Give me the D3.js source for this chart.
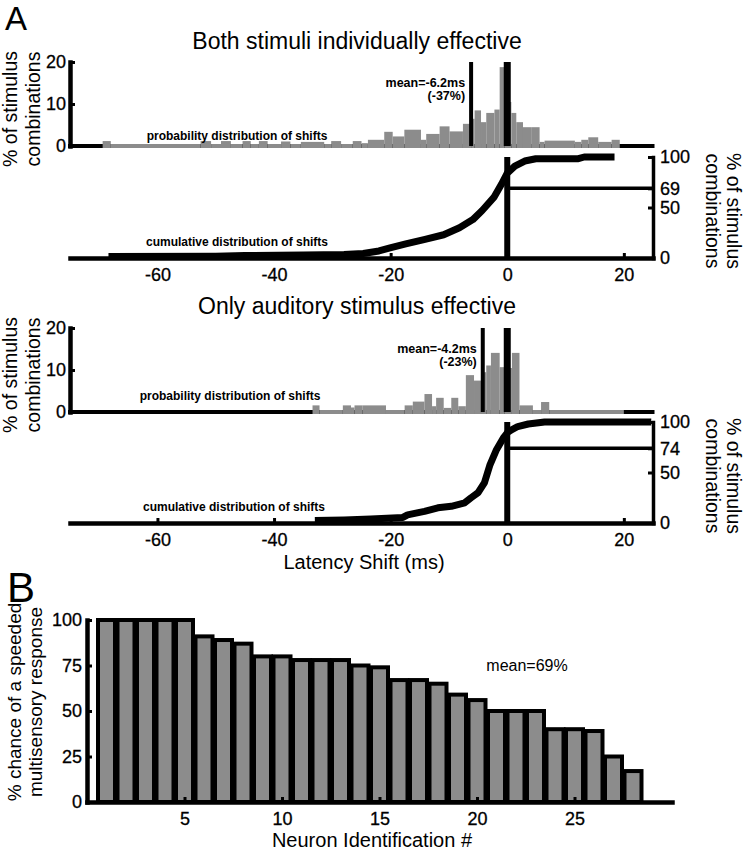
<!DOCTYPE html>
<html><head><meta charset="utf-8">
<script src="https://cdn.jsdelivr.net/npm/d3@7"></script>
<style>
body{margin:0;background:#fff}
svg{display:block}
</style>
</head><body>
<svg id="c" width="746" height="853"></svg>
<script>
// ---------------- DATA ----------------
const shiftDomain = [-75, 25];
const shiftTicks = [-60, -40, -20, 0, 20];
const histTicks = [0, 10, 20];
const cumTicks = [0, 50, 100];

// Panel A1: both stimuli individually effective
const topTitle = "Both stimuli individually effective";
const topHistEdges = [-69.4,-68,-52.6,-50.8,-49.1,-47.4,-45.4,-44,-42.6,-41.1,-38.8,-37.2,-35.4,-31.4,-30.2,-28.5,-26.5,-25,-23.9,-21.1,-19.65,-17.65,-14.8,-13.9,-11.6,-9.9,-7.6,-6.2,-5.6,-4.5,-3.6,-2.2,-1.3,-0.45,0.7,1.55,2.7,4.1,5.55,6.4,11.6,12.7,13.9,15.6,17.9,19.3];
const topHistPct = [0.7,0,0.7,0,0.7,0,0.7,0,0.7,0,0.6,0,0.5,0,0.7,0,0.7,0.2,1.0,2.9,1.8,3.4,1.0,2.4,4.2,3.0,4.8,6.0,8.0,5.2,7.4,8.2,18.3,10,7.4,5.2,4.0,4.0,0.5,0.8,0.5,1.0,1.6,0.5,1.0];
const topMean = -6.2;
const topMeanLabel = ["mean=-6.2ms", "(-37%)"];
const topCumShift = [-68.4,-50,-45,-35,-28,-24.7,-22,-20.1,-17.4,-14.1,-10.9,-8.2,-5.9,-4.3,-2.3,-1.0,0,1.3,3.0,4.9,8,12.2,13.2,18.4];
const topCumPct   = [1.5,1.8,2.5,3,3.5,4.5,7,10,14,18.5,23,30,38,47,60,73,84,91,96,98.3,98.3,98.3,100,100];
const topNegPct = 69;

// Panel A2: only auditory stimulus effective
const botTitle = "Only auditory stimulus effective";
const botHistEdges = [-33.4,-32.2,-28.2,-26.8,-26.2,-24.8,-20.8,-17.6,-16.2,-14.2,-12.9,-12.2,-10.9,-9.6,-8.4,-7.1,-5.7,-4.5,-3.6,-2.8,-1.3,-0.5,0.8,2.1,4.4,5.8,7.2,20];
const botHistPct = [1.1,0,1.1,0.6,1.1,1.1,0,1.1,2.0,3.8,0.9,2.9,0.5,2.9,0.9,8.3,7.0,9.0,10.6,13.6,10.2,10,13.6,1.1,0,1.9,0];
const botMean = -4.2;
const botMeanLabel = ["mean=-4.2ms", "(-23%)"];
const botCumShift = [-33,-28,-23.4,-17.9,-17.1,-14.2,-11.9,-9.6,-7.3,-6.2,-5.0,-3.9,-3.0,-1.9,-0.7,0.1,0.7,1.8,3.6,6.4,24.7];
const botCumPct   = [2.5,3,4,5.5,8,11.5,15,16.5,20,25,30,40,57,72,84,90,92,95.5,98,100,100];
const botNegPct = 74;

// Panel B
const neuronIds = d3.range(1, 29);
const speededPct = [100,100,100,100,100,91,89,87,80,80,78,78,78,75,74,67,67,65,59,56,50,50,50,40,40,39,25,17];
const neuronTicks = [5, 10, 15, 20, 25];
const chanceTicks = [0, 25, 50, 75, 100];
const meanChanceLabel = "mean=69%";

// ---------------- DRAW ----------------
const FONT = '"Liberation Sans", Arial, Helvetica, sans-serif';
const GRAY = "#8c8c8c";
const svg = d3.select("#c").attr("font-family", FONT);

const x = d3.scaleLinear().domain(shiftDomain).range([70, 653]);
const [X0, X1] = x.range();

function styleAxis(g, w, fs) {
  g.attr("font-family", FONT).attr("font-size", fs);
  g.select(".domain").attr("stroke-width", w).attr("stroke-linecap", "square");
  g.selectAll(".tick line").attr("stroke-width", 3);
  g.selectAll(".tick text").attr("fill", "#000").attr("stroke", "#000").attr("stroke-width", 0.3);
}

function drawPanel(cfg) {
  const g = svg.append("g");
  const yH = d3.scaleLinear().domain([0, 20]).range([cfg.hBase, cfg.hBase - 84]);
  const yC = d3.scaleLinear().domain([0, 100]).range([cfg.cBase, cfg.cBase - 101]);

  g.append("text").attr("x", 357).attr("y", cfg.titleY).attr("text-anchor", "middle")
    .attr("font-size", 23).text(cfg.title);

  // histogram baseline
  g.append("line").attr("x1", X0 - 2).attr("x2", X1 + 1.5).attr("y1", yH(0)).attr("y2", yH(0))
    .attr("stroke", "#000").attr("stroke-width", 4);

  const bins = cfg.pct.map((v, i) => ({ x0: cfg.edges[i], x1: cfg.edges[i + 1], v }));
  g.selectAll("rect.bin").data(bins).join("rect").attr("class", "bin")
    .attr("x", d => x(d.x0)).attr("width", d => x(d.x1) - x(d.x0))
    .attr("y", d => yH(d.v) - 2).attr("height", d => yH(0) - yH(d.v) + 4)
    .attr("fill", GRAY);

  const ya = g.append("g").attr("transform", `translate(${X0},0)`)
    .call(d3.axisLeft(yH).tickValues(histTicks).tickSizeInner(-5).tickSizeOuter(0).tickPadding(4));
  styleAxis(ya, 4.5, 18);

  // mean line and zero line in histogram
  g.append("line").attr("x1", x(cfg.mean)).attr("x2", x(cfg.mean)).attr("y1", yH(0)).attr("y2", yH(20))
    .attr("stroke", "#000").attr("stroke-width", 4);
  g.append("line").attr("x1", x(0)).attr("x2", x(0)).attr("y1", yH(0)).attr("y2", yH(20))
    .attr("stroke", "#000").attr("stroke-width", 7);

  const ml = g.append("text").attr("text-anchor", "end").attr("font-size", 12.5).attr("font-weight", "bold");
  ml.append("tspan").attr("x", x(cfg.mean) - 6).attr("y", yH(20) + 25).text(cfg.meanLabel[0]);
  ml.append("tspan").attr("x", x(cfg.mean) - 6).attr("y", yH(20) + 37.5).text(cfg.meanLabel[1]);

  g.append("text").attr("x", cfg.probX).attr("y", yH(0) + cfg.probDy).attr("text-anchor", "middle")
    .attr("font-size", 12).attr("font-weight", "bold").text("probability distribution of shifts");

  // left label
  const ll = g.append("text").attr("transform", `translate(0,${yH(0) - 37}) rotate(-90)`)
    .attr("text-anchor", "middle").attr("font-size", 19.5);
  ll.append("tspan").attr("x", 0).attr("y", 17).text("% of stimulus");
  ll.append("tspan").attr("x", 0).attr("y", 40).text("combinations");

  // cumulative
  const xa = g.append("g").attr("transform", `translate(0,${yC(0)})`)
    .call(d3.axisBottom(x).tickValues(shiftTicks).tickSizeInner(-5).tickSizeOuter(0).tickPadding(10).tickFormat(d => d));
  styleAxis(xa, 4.5, 18);

  const ra = g.append("g").attr("transform", `translate(${X1},0)`)
    .call(d3.axisRight(yC).tickValues(cumTicks.concat([cfg.negPct])).tickSizeInner(-5).tickSizeOuter(0).tickPadding(7));
  styleAxis(ra, 3.5, 18);

  g.append("line").attr("x1", x(0)).attr("x2", X1).attr("y1", yC(cfg.negPct)).attr("y2", yC(cfg.negPct))
    .attr("stroke", "#000").attr("stroke-width", 3.5);
  g.append("line").attr("x1", x(0)).attr("x2", x(0)).attr("y1", yC(0)).attr("y2", yC(100))
    .attr("stroke", "#000").attr("stroke-width", 6);

  const pts = cfg.cumX.map((s, i) => [s, cfg.cumY[i]]);
  g.append("path").datum(pts)
    .attr("d", d3.line().x(d => x(d[0])).y(d => yC(d[1])))
    .attr("fill", "none").attr("stroke", "#000").attr("stroke-width", 7)
    .attr("stroke-linejoin", "round");

  g.append("text").attr("x", cfg.cumTextX).attr("y", yC(0) - 12).attr("text-anchor", "middle")
    .attr("font-size", 12).attr("font-weight", "bold").text("cumulative distribution of shifts");

  const rl = g.append("text").attr("transform", `translate(0,${yC(0) - 47}) rotate(90)`)
    .attr("text-anchor", "middle").attr("font-size", 19.5);
  rl.append("tspan").attr("x", 0).attr("y", -727).text("% of stimulus");
  rl.append("tspan").attr("x", 0).attr("y", -706).text("combinations");

  return g;
}

drawPanel({ title: topTitle, titleY: 49, hBase: 146, cBase: 258,
  edges: topHistEdges, pct: topHistPct, mean: topMean, meanLabel: topMeanLabel,
  cumX: topCumShift, cumY: topCumPct, negPct: topNegPct, probX: 237, probDy: -6, cumTextX: 237 });
drawPanel({ title: botTitle, titleY: 314, hBase: 412, cBase: 523,
  edges: botHistEdges, pct: botHistPct, mean: botMean, meanLabel: botMeanLabel,
  cumX: botCumShift, cumY: botCumPct, negPct: botNegPct, probX: 230, probDy: -12, cumTextX: 234 });

svg.append("text").attr("x", 364).attr("y", 569).attr("text-anchor", "middle")
  .attr("font-size", 20).text("Latency Shift (ms)");

svg.append("text").attr("x", 5).attr("y", 30).attr("font-size", 33).text("A");
svg.append("text").attr("x", 7).attr("y", 602).attr("font-size", 42).text("B");

// Panel B
const xb = d3.scaleLinear().domain([0, 30]).range([87, 672]);
const yb = d3.scaleLinear().domain([0, 100]).range([802, 620]);
const gb = svg.append("g");
const barW = 17;
gb.selectAll("rect.nb").data(neuronIds.map((n, i) => ({ n, v: speededPct[i] }))).join("rect")
  .attr("class", "nb")
  .attr("x", d => xb(d.n) - barW / 2).attr("width", barW)
  .attr("y", d => yb(d.v)).attr("height", d => yb(0) - yb(d.v))
  .attr("fill", GRAY).attr("stroke", "#000").attr("stroke-width", 4);

const bx = gb.append("g").attr("transform", `translate(0,${yb(0)})`)
  .call(d3.axisBottom(xb).tickValues(neuronTicks).tickSizeInner(-5).tickSizeOuter(0).tickPadding(10));
styleAxis(bx, 4.5, 18);
const by = gb.append("g").attr("transform", `translate(${xb(0)},0)`)
  .call(d3.axisLeft(yb).tickValues(chanceTicks).tickSizeInner(-5).tickSizeOuter(0).tickPadding(5));
styleAxis(by, 4.5, 18);

gb.append("text").attr("x", 527).attr("y", 671).attr("text-anchor", "middle")
  .attr("font-size", 16).text(meanChanceLabel);
gb.append("text").attr("x", 372).attr("y", 847).attr("text-anchor", "middle")
  .attr("font-size", 20).text("Neuron Identification #");
const bl = gb.append("text").attr("transform", `translate(0,702) rotate(-90)`)
  .attr("text-anchor", "middle").attr("font-size", 19);
bl.append("tspan").attr("x", 0).attr("y", 21).text("% chance of a speeded");
bl.append("tspan").attr("x", 0).attr("y", 42).text("multisensory response");
</script>
</body></html>
